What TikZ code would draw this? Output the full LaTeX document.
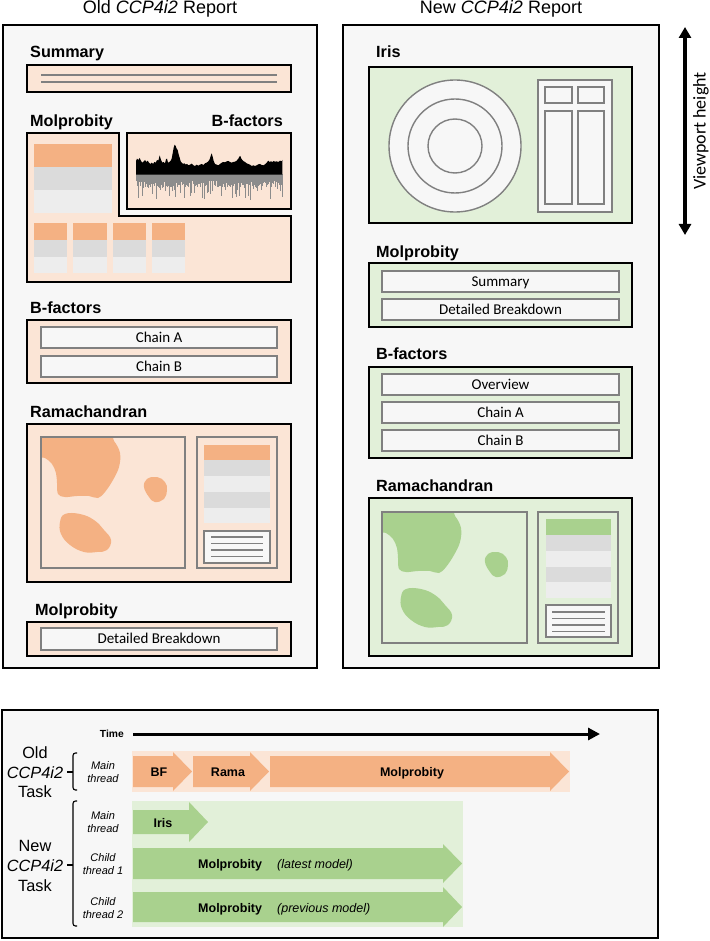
\documentclass[tikz,border=0pt]{standalone}
\usepackage{fontspec}
\setmainfont{Liberation Sans}
\newfontfamily\carlito{Carlito}
\usetikzlibrary{arrows.meta}
\definecolor{panelbg}{HTML}{F7F7F7}
\definecolor{orangeL}{HTML}{FBE5D6}
\definecolor{orangeD}{HTML}{F4B183}
\definecolor{greenL}{HTML}{E2F0D9}
\definecolor{greenD}{HTML}{A9D18E}
\definecolor{rowgray}{HTML}{DBDBDB}
\definecolor{rowlight}{HTML}{EDEDED}
\definecolor{boxgray}{HTML}{808080}
\definecolor{bfgray}{HTML}{8C8C8C}
\newcommand{\tarrow}[7]{%
 \fill[#1] (#2,{#5-#6}) -- (#3,{#5-#6}) -- (#3,{#5-#7}) -- (#4,#5) -- (#3,{#5+#7}) -- (#3,{#5+#6}) -- (#2,{#5+#6}) -- cycle;}
\newcommand{\rblobs}[1]{%
 \begin{scope}
 \clip (0,0) rectangle (144,131);
 \fill[#1] plot[smooth cycle, tension=0.6] coordinates {(-5,-5) (63,-5) (73,4) (79,16) (78,30) (72,43) (64,55) (57,61) (48,59) (36,59) (24,60) (17,57) (16,46) (15,36) (11,27) (4,21) (-5,18)};
 \end{scope}
 \fill[#1] plot[smooth cycle, tension=0.7] coordinates {(106,42) (116,40) (124,45) (126,53) (123,62) (114,65) (108,60) (103,50)};
 \fill[#1] plot[smooth cycle, tension=0.7] coordinates {(24,77) (39,77) (53,83) (63,93) (70,103) (66,113) (56,115) (43,115) (29,108) (20,97) (19,85)};
}
\tikzset{
 panel/.style={draw=black, line width=2.2, fill=panelbg},
 osec/.style={draw=black, line width=2, fill=orangeL},
 gsec/.style={draw=black, line width=2, fill=greenL},
 ibox/.style={draw=boxgray, line width=1.4, fill=panelbg},
 iline/.style={draw=boxgray, line width=1.3},
 itext/.style={font=\carlito\fontsize{15}{17}\selectfont, text height=9.6pt, text depth=0pt, inner sep=0pt},
 head/.style={font=\bfseries\fontsize{16.2}{18}\selectfont, anchor=base west, inner sep=0pt},
 ttl/.style={font=\fontsize{18}{20}\selectfont, anchor=base, inner sep=0pt},
 big/.style={font=\fontsize{16.3}{18}\selectfont, anchor=base, inner sep=0pt},
 thr/.style={font=\itshape\fontsize{11}{13}\selectfont, align=center, inner sep=0pt},
 alab/.style={font=\bfseries\fontsize{12.5}{14}\selectfont, anchor=base, inner sep=0pt},
 brace/.style={line width=1.1, rounded corners=2.5},
}
\begin{document}
\begin{tikzpicture}[x=1pt,y=-1pt]
\useasboundingbox[fill=white] (0,0) rectangle (709,941);
% ---------- panels
\draw[panel] (3,25) rectangle (317,668);
\draw[panel] (343,25) rectangle (659,668);
\node[ttl] (otitle) at (160,14) {Old \textit{CCP4i2} Report};
\node[ttl] (ntitle) at (501,14) {New \textit{CCP4i2} Report};

% ---------- OLD report
\node[head] (osum) at (30,58) {Summary};
\draw[osec] (27,65) rectangle (291,92);
\draw[iline] (41,75) -- (277,75);
\draw[iline] (41,82) -- (277,82);

\node[head] (omol) at (30,127) {Molprobity};
\node[head, anchor=base east] (obfh) at (283,127) {B-factors};
\draw[osec] (27,133) -- (119,133) -- (119,216) -- (291,216) -- (291,282) -- (27,282) -- cycle;
\draw[osec] (127,133) rectangle (291,209);
% big table
\fill[orangeD] (34,144) rectangle (112,167);
\fill[rowgray] (34,167) rectangle (112,190);
\fill[rowlight] (34,190) rectangle (112,213);
% small tables
\foreach \a/\b in {34/67,73/107,113/146,152/185}{
 \fill[orangeD] (\a,223) rectangle (\b,240);
 \fill[rowgray] (\a,240) rectangle (\b,257);
 \fill[rowlight] (\a,257) rectangle (\b,273);
}
% B-factor plot
\begin{scope}[shift={(125,130)}, scale=1/3]
 \pgfmathsetseed{42}
 \fill[bfgray] (33,133) rectangle (472,152);
 \foreach \i in {34,35.5,...,471}{
  \pgfmathsetmacro\r{rnd}
  \pgfmathsetmacro\d{\r<0.15 ? 172+rnd*38 : 148+rnd*24}
  \draw[bfgray, line width=0.55] (\i,133) -- (\i,\d);
 }
 \fill[black] (33,134) -- (33,93) -- (36,86) -- (40,90) -- (44,84) -- (48,93) -- (52,98) -- (56,94) -- (60,90) -- (64,96) -- (68,92) -- (72,98) -- (76,102) -- (80,98) -- (84,102) -- (88,96) -- (92,98) -- (96,90) -- (100,92) -- (104,76) -- (108,90) -- (112,98) -- (116,96) -- (120,100) -- (123,88) -- (126,86) -- (129,98) -- (133,96) -- (137,92) -- (140,86) -- (143,70) -- (146,53) -- (149,44) -- (152,48) -- (155,56) -- (158,60) -- (161,73) -- (164,83) -- (167,94) -- (170,98) -- (174,102) -- (178,100) -- (182,104) -- (186,102) -- (190,106) -- (195,104) -- (200,101) -- (205,106) -- (210,108) -- (215,104) -- (220,107) -- (225,104) -- (230,102) -- (235,105) -- (240,100) -- (245,98) -- (250,94) -- (254,88) -- (257,78) -- (260,70) -- (263,80) -- (266,93) -- (270,102) -- (275,104) -- (280,106) -- (285,102) -- (290,98) -- (295,96) -- (300,97) -- (305,94) -- (310,93) -- (315,96) -- (320,98) -- (325,96) -- (330,95) -- (335,92) -- (340,86) -- (343,80) -- (346,78) -- (349,86) -- (352,90) -- (356,94) -- (360,96) -- (365,100) -- (370,102) -- (375,104) -- (380,108) -- (385,106) -- (390,108) -- (395,106) -- (400,103) -- (405,102) -- (410,105) -- (415,106) -- (420,103) -- (425,98) -- (430,92) -- (434,96) -- (438,94) -- (442,96) -- (446,93) -- (450,95) -- (455,94) -- (460,96) -- (465,92) -- (470,94) -- (472,90) -- (472,134) -- cycle;
\end{scope}

\node[head] (obf) at (30,313) {B-factors};
\draw[osec] (27,320) rectangle (291,383);
\draw[ibox] (41,327) rectangle (277,348);
\node[itext] (oca) at (159,337.5) {Chain A};
\draw[ibox] (41,356) rectangle (277,377);
\node[itext] (ocb) at (159,366.5) {Chain B};

\node[head] (orama) at (30,417) {Ramachandran};
\draw[osec] (27,424) rectangle (291,582);
\begin{scope}[shift={(41,437)}]
 \rblobs{orangeD}
\end{scope}
\draw[iline] (41,437) rectangle (185,568);
\draw[iline] (197,437) rectangle (277,568);
\fill[orangeD] (204,445) rectangle (270,460);
\fill[rowgray] (204,460) rectangle (270,476);
\fill[rowlight] (204,476) rectangle (270,492);
\fill[rowgray] (204,492) rectangle (270,508);
\fill[rowlight] (204,508) rectangle (270,523);
\draw[ibox] (204,531) rectangle (270,563);
\foreach \y in {537,543.5,550,556.5}{\draw[iline] (211,\y) -- (263,\y);}

\node[head] (omol2) at (35,615) {Molprobity};
\draw[osec] (27,622) rectangle (291,656);
\draw[ibox] (41,628) rectangle (277,650);
\node[itext] (odb) at (159,639) {Detailed Breakdown};

% ---------- NEW report
\node[head] (niris) at (376,58) {Iris};
\draw[gsec] (369,67) rectangle (632,223);
\draw[ibox] (455,146) circle[radius=66];
\draw[ibox] (455,146) circle[radius=47];
\draw[ibox] (455,146) circle[radius=27];
\draw[ibox] (538,80) rectangle (612,212);
\draw[ibox] (545,87) rectangle (572,103);
\draw[ibox] (578,87) rectangle (604,103);
\draw[ibox] (545,111) rectangle (572,204);
\draw[ibox] (578,111) rectangle (604,204);

\node[head] (nmol) at (376,257) {Molprobity};
\draw[gsec] (369,263) rectangle (632,327);
\draw[ibox] (382,271) rectangle (619,292);
\node[itext] (nsum) at (500.5,281.5) {Summary};
\draw[ibox] (382,299) rectangle (619,320);
\node[itext] (ndb) at (500.5,309.5) {Detailed Breakdown};

\node[head] (nbf) at (376,359) {B-factors};
\draw[gsec] (369,367) rectangle (632,458);
\draw[ibox] (382,374) rectangle (619,395);
\node[itext] (nov) at (500.5,384.5) {Overview};
\draw[ibox] (382,402) rectangle (619,423);
\node[itext] (nca) at (500.5,412.5) {Chain A};
\draw[ibox] (382,430) rectangle (619,451);
\node[itext] (ncb) at (500.5,440.5) {Chain B};

\node[head] (nrama) at (376,491) {Ramachandran};
\draw[gsec] (369,498) rectangle (632,656);
\begin{scope}[shift={(382,512)}]
 \rblobs{greenD}
\end{scope}
\draw[iline] (382,512) rectangle (527,643);
\draw[iline] (538,512) rectangle (618,643);
\fill[greenD] (546,519) rectangle (611,535);
\fill[rowgray] (546,535) rectangle (611,551);
\fill[rowlight] (546,551) rectangle (611,567);
\fill[rowgray] (546,567) rectangle (611,582);
\fill[rowlight] (546,582) rectangle (611,598);
\draw[ibox] (546,605) rectangle (611,637);
\foreach \y in {612,618.5,625,631.5}{\draw[iline] (552,\y) -- (605,\y);}

% viewport arrow
\coordinate (v0) at (685,27);
\coordinate (v1) at (685,235);
\draw[line width=3.5, {Triangle[length=11pt,width=12pt]}-{Triangle[length=11pt,width=12pt]}] (v0) -- (v1);
\node[font=\carlito\fontsize{18}{20}\selectfont, rotate=90, inner sep=0pt] (vh) at (701,131) {Viewport height};

% ---------- timeline panel
\draw[panel] (2,710) rectangle (658,938);
\node[font=\bfseries\fontsize{10.3}{12}\selectfont, anchor=base east, inner sep=0pt] (time) at (124,737.5) {Time};
\coordinate (t0) at (133,734);
\coordinate (t1) at (600,734);
\draw[line width=3, -{Triangle[length=12pt,width=12pt]}] (t0) -- (t1);

\fill[orangeL] (132,751) rectangle (570,792);
\tarrow{orangeD}{133}{173}{192}{771.5}{15.5}{19.5}
\tarrow{orangeD}{193}{250}{269}{771.5}{15.5}{19.5}
\tarrow{orangeD}{270}{550}{569}{771.5}{15.5}{19.5}
\node[alab] (abf) at (159,776.5) {BF};
\node[alab] (arama) at (228,776.5) {Rama};
\node[alab] (amol) at (412,776.5) {Molprobity};

\fill[greenL] (132,801) rectangle (463,927);
\tarrow{greenD}{133}{189}{208}{822}{12}{20}
\tarrow{greenD}{133}{443}{462}{863.5}{15.5}{19.5}
\tarrow{greenD}{133}{443}{462}{907}{15}{20}
\node[alab] (airis) at (163,827) {Iris};
\node[alab, anchor=base west] (am1) at (198,868.5) {Molprobity};
\node[font=\itshape\fontsize{12.5}{14}\selectfont, anchor=base west, inner sep=0pt] (lm1) at (277,868.5) {(latest model)};
\node[alab, anchor=base west] (am2) at (198,912) {Molprobity};
\node[font=\itshape\fontsize{12.5}{14}\selectfont, anchor=base west, inner sep=0pt] (lm2) at (277,912) {(previous model)};

% left labels
\node[big] (old1) at (35,758) {Old};
\node[big] (old2) at (35,778) {\textit{CCP4i2}};
\node[big] (old3) at (35,797.5) {Task};
\node[big] (new1) at (35,851) {New};
\node[big] (new2) at (35,871) {\textit{CCP4i2}};
\node[big] (new3) at (35,891) {Task};
\draw[brace] (77,753) -- (73,753) -- (73,790) -- (77,790);
\draw[line width=1.1] (67,772) -- (73,772);
\draw[brace] (77,801) -- (73,801) -- (73,926) -- (77,926);
\draw[line width=1.1] (67,865) -- (73,865);
\node[thr] (th1) at (103,772) {Main\\thread};
\node[thr] (th2) at (103,822) {Main\\thread};
\node[thr] (th3) at (103,864.5) {Child\\thread 1};
\node[thr] (th4) at (103,908) {Child\\thread 2};
\end{tikzpicture}
\end{document}
